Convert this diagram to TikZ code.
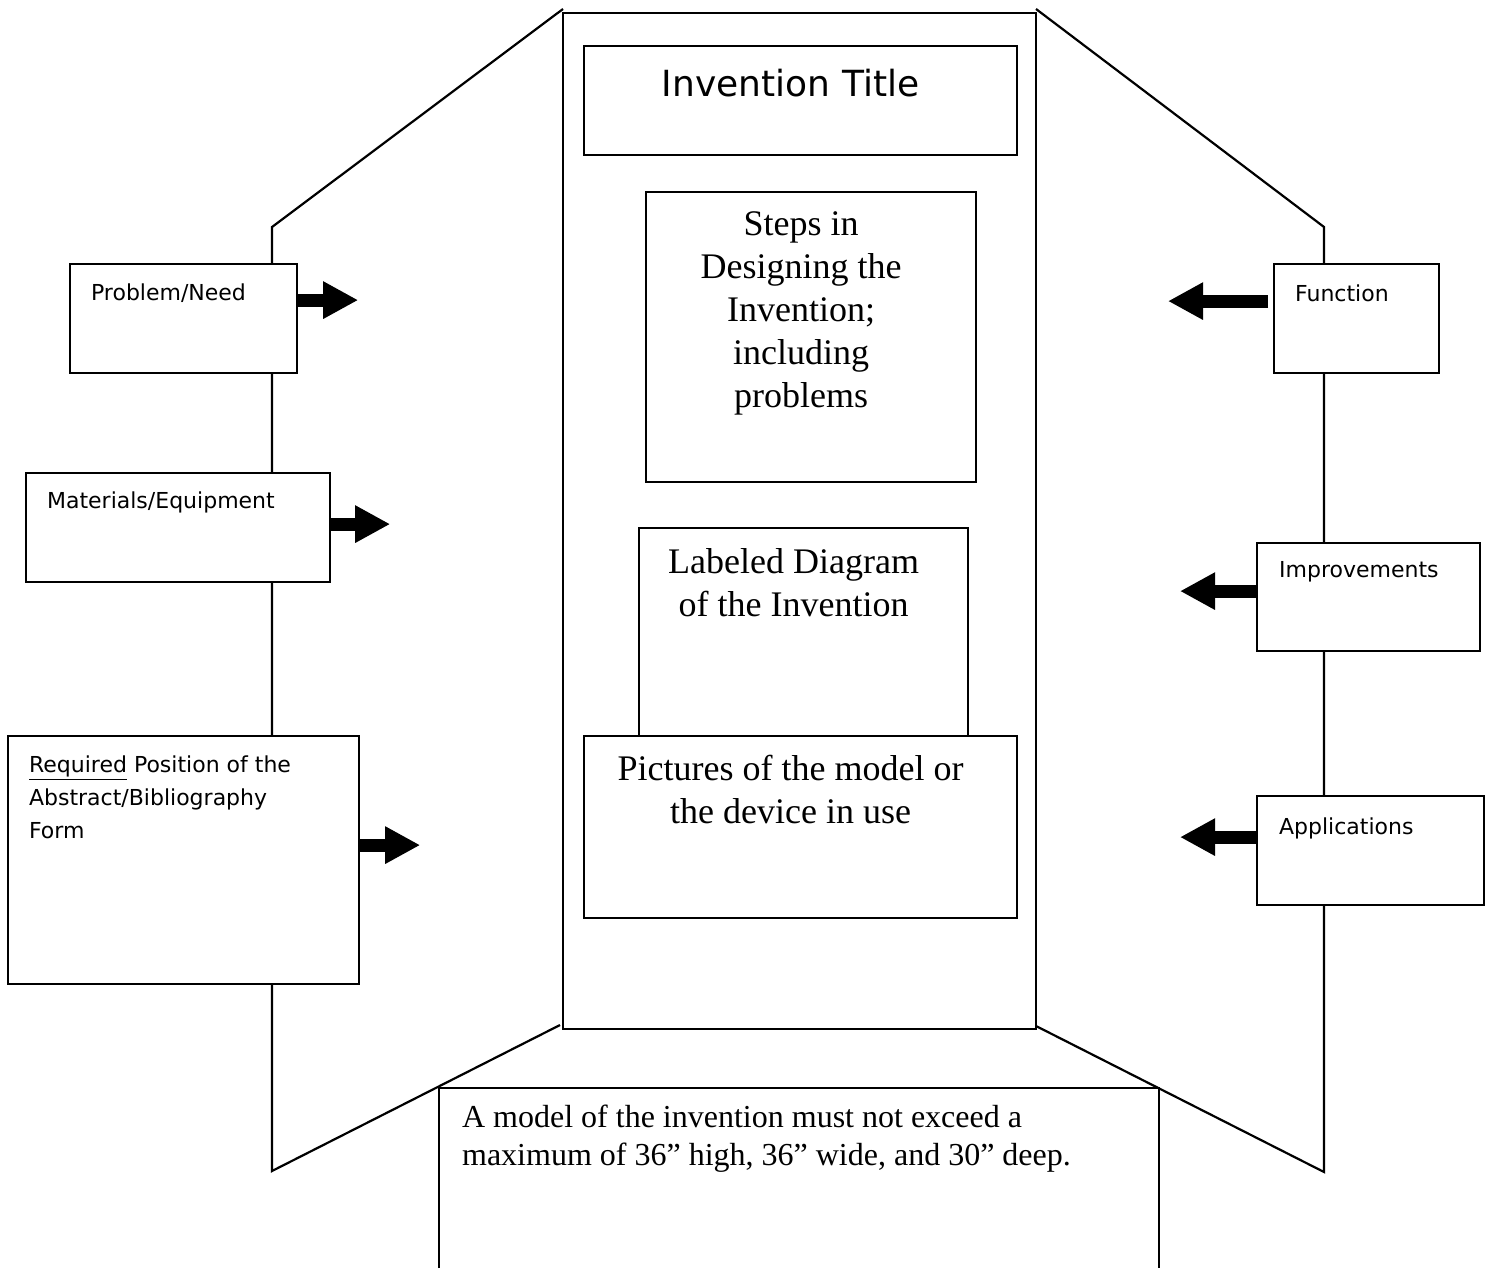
\documentclass[tikz,border=0pt]{standalone}
\usepackage{fontspec}
\setmainfont{Liberation Serif}
\newfontfamily\handfont{DejaVu Sans}
\usetikzlibrary{arrows.meta,positioning}
\begin{document}
\begin{tikzpicture}[x=0.5pt,y=-0.5pt,line width=1.1pt,
 box/.style={draw,fill=white,anchor=north west,inner sep=0pt},
 tag/.style={font=\handfont\fontsize{11}{16.5}\selectfont,anchor=base west,inner sep=0pt,align=left},
 say/.style={font=\fontsize{18}{21.5}\selectfont,anchor=base,inner sep=0pt,align=center},
 fat/.style={line width=6.5pt,-{Triangle[length=17.5pt,width=17.5pt]}}]
\useasboundingbox (0,0) rectangle (1487,1268);
% the three panels of the board
\draw (563,9) -- (272,227) -- (272,1171) -- (560,1025);
\draw (1036,9) -- (1324,227) -- (1324,1172) -- (1036,1026);
\draw (563,13) rectangle (1036,1029);
\draw (439,1268) -- (439,1088) -- (1159,1088) -- (1159,1268);
% centre panel
\node[box,minimum width=216.5pt,minimum height=54.5pt] (title) at (583,45) {};
\node[anchor=base,inner sep=0pt,font=\handfont\fontsize{18}{22}\selectfont] at ([shift={(-10,52)}]title.north) {Invention Title};
\node[box,minimum width=165pt,minimum height=145pt] (steps) at (645,191) {};
\node[say] at ([shift={(-10,216)}]steps.north) {Steps in\\Designing the\\Invention;\\including\\problems};
\node[box,minimum width=164.5pt,minimum height=110pt] (diagram) at (638,527) {};
\node[say] at ([shift={(-10,89)}]diagram.north) {Labeled Diagram\\of the Invention};
\node[box,minimum width=216.5pt,minimum height=91pt] (photos) at (583,735) {};
\node[say] at ([shift={(-10,88)}]photos.north) {Pictures of the model or\\the device in use};
% left panel
\node[box,minimum width=113.5pt,minimum height=54.5pt] (need) at (69,263) {};
\node[tag] at ([shift={(21,37)}]need.north west) {Problem/Need};
\node[box,minimum width=152pt,minimum height=54.5pt] (stuff) at (25,472) {};
\node[tag] at ([shift={(21,36)}]stuff.north west) {Materials/Equipment};
\node[box,minimum width=175.5pt,minimum height=124pt] (form) at (7,735) {};
\node[tag] at ([shift={(21,103)}]form.north west) {\underline{Required} Position of the\\Abstract/Bibliography\\Form};
% right panel
\node[box,minimum width=82.5pt,minimum height=54.5pt] (func) at (1273,263) {};
\node[tag] at ([shift={(21,38)}]func.north west) {Function};
\node[box,minimum width=111.5pt,minimum height=54pt] (better) at (1256,542) {};
\node[tag] at ([shift={(22,35)}]better.north west) {Improvements};
\node[box,minimum width=113.5pt,minimum height=54.5pt] (uses) at (1256,795) {};
\node[tag] at ([shift={(22,39)}]uses.north west) {Applications};
\draw[fat] ([yshift=9.25pt]need.east) -- ++(60,0);
\draw[fat] ([yshift=1.75pt]stuff.east) -- ++(59,0);
\draw[fat] ([yshift=7.5pt]form.east) -- ++(60,0);
\draw[fat] ([shift={(-5,-17.5)}]func.west) -- ++(-100,0);
\draw[fat] ([yshift=3pt]better.west) -- ++(-76,0);
\draw[fat] ([yshift=6.75pt]uses.west) -- ++(-76,0);
% model size
\node[anchor=base west,inner sep=0pt,align=left,font=\fontsize{16}{19}\selectfont] (model) at (461,1165) {A model of the invention must not exceed a\\maximum of 36” high, 36” wide, and 30” deep.};
\end{tikzpicture}
\end{document}
